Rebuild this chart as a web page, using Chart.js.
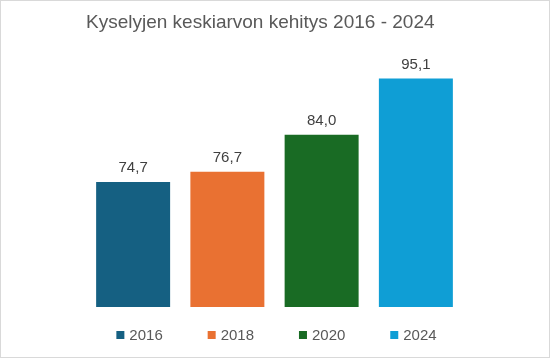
<!DOCTYPE html>
<html>
<head>
<meta charset="utf-8">
<script src="https://cdn.jsdelivr.net/npm/chart.js@4.4.1/dist/chart.umd.min.js"></script>
<style>
  html, body { margin: 0; padding: 0; background: #fff; }
  #wrap { width: 550px; height: 358px; box-sizing: border-box; border: 1px solid #d9d9d9; }
  canvas { display: block; }
</style>
</head>
<body>
<div id="wrap"><canvas id="myChart" width="548" height="356"></canvas></div>
<script>
(function () {
    "use strict";

    var years = ['2016', '2018', '2020', '2024'];
    var averages = [74.7, 76.7, 84.0, 95.1];
    var colors = ['#156082', '#E97132', '#196B24', '#0F9ED5'];
    var font = '"Liberation Sans", Arial, sans-serif';

    // value labels above bars, finnish decimal comma
    var valueLabels = {
        id: 'valueLabels',
        afterDatasetsDraw: function (chart) {
            var ctx = chart.ctx;
            ctx.save();
            ctx.font = '15px ' + font;
            ctx.fillStyle = '#404040';
            ctx.textAlign = 'center';
            ctx.textBaseline = 'alphabetic';
            chart.data.datasets.forEach(function (ds, i) {
                var meta = chart.getDatasetMeta(i);
                meta.data.forEach(function (bar, j) {
                    ctx.fillText(ds.data[j].toFixed(1).replace('.', ','), bar.x, bar.y - 10);
                });
            });
            ctx.restore();
        }
    };

    // legend row under the plot, wider spacing than the built-in one allows
    var bottomLegend = {
        id: 'bottomLegend',
        afterDraw: function (chart) {
            var ctx = chart.ctx;
            var area = chart.chartArea;
            var step = 91.3, box = 8, gap = 5;
            ctx.save();
            ctx.font = '15px ' + font;
            var last = chart.data.datasets.length - 1;
            var total = step * last + box + gap + ctx.measureText(chart.data.datasets[last].label).width;
            var x = (area.left + area.right) / 2 - total / 2 + 2;
            var y = area.bottom + 28;
            ctx.textBaseline = 'middle';
            chart.data.datasets.forEach(function (ds, i) {
                var bx = x + i * step;
                ctx.fillStyle = ds.backgroundColor;
                ctx.fillRect(bx, y - box / 2, box, box);
                ctx.fillStyle = '#595959';
                ctx.fillText(ds.label, bx + box + gap, y + 1);
            });
            ctx.restore();
        }
    };

    var ctx = document.getElementById('myChart').getContext('2d');
    var chart = new Chart(ctx, {
        type: 'bar',
        data: {
            labels: [''],
            datasets: years.map(function (y, i) {
                return {
                    label: y,
                    data: [averages[i]],
                    backgroundColor: colors[i],
                    categoryPercentage: 1.0,
                    barPercentage: 0.785
                };
            })
        },
        options: {
            responsive: false,
            animation: false,
            layout: {
                padding: { left: 85, right: 86, top: 0, bottom: 50 }
            },
            scales: {
                x: { display: false },
                y: { display: false, min: 50, max: 100 }
            },
            plugins: {
                legend: { display: false },
                tooltip: { enabled: false },
                title: {
                    display: true,
                    text: 'Kyselyjen keskiarvon kehitys 2016 - 2024',
                    color: '#595959',
                    align: 'start',
                    font: { family: font, size: 19, weight: 'normal' },
                    padding: { top: 10, bottom: 20 }
                }
            }
        },
        plugins: [valueLabels, bottomLegend]
    });
})();
</script>
</body>
</html>
